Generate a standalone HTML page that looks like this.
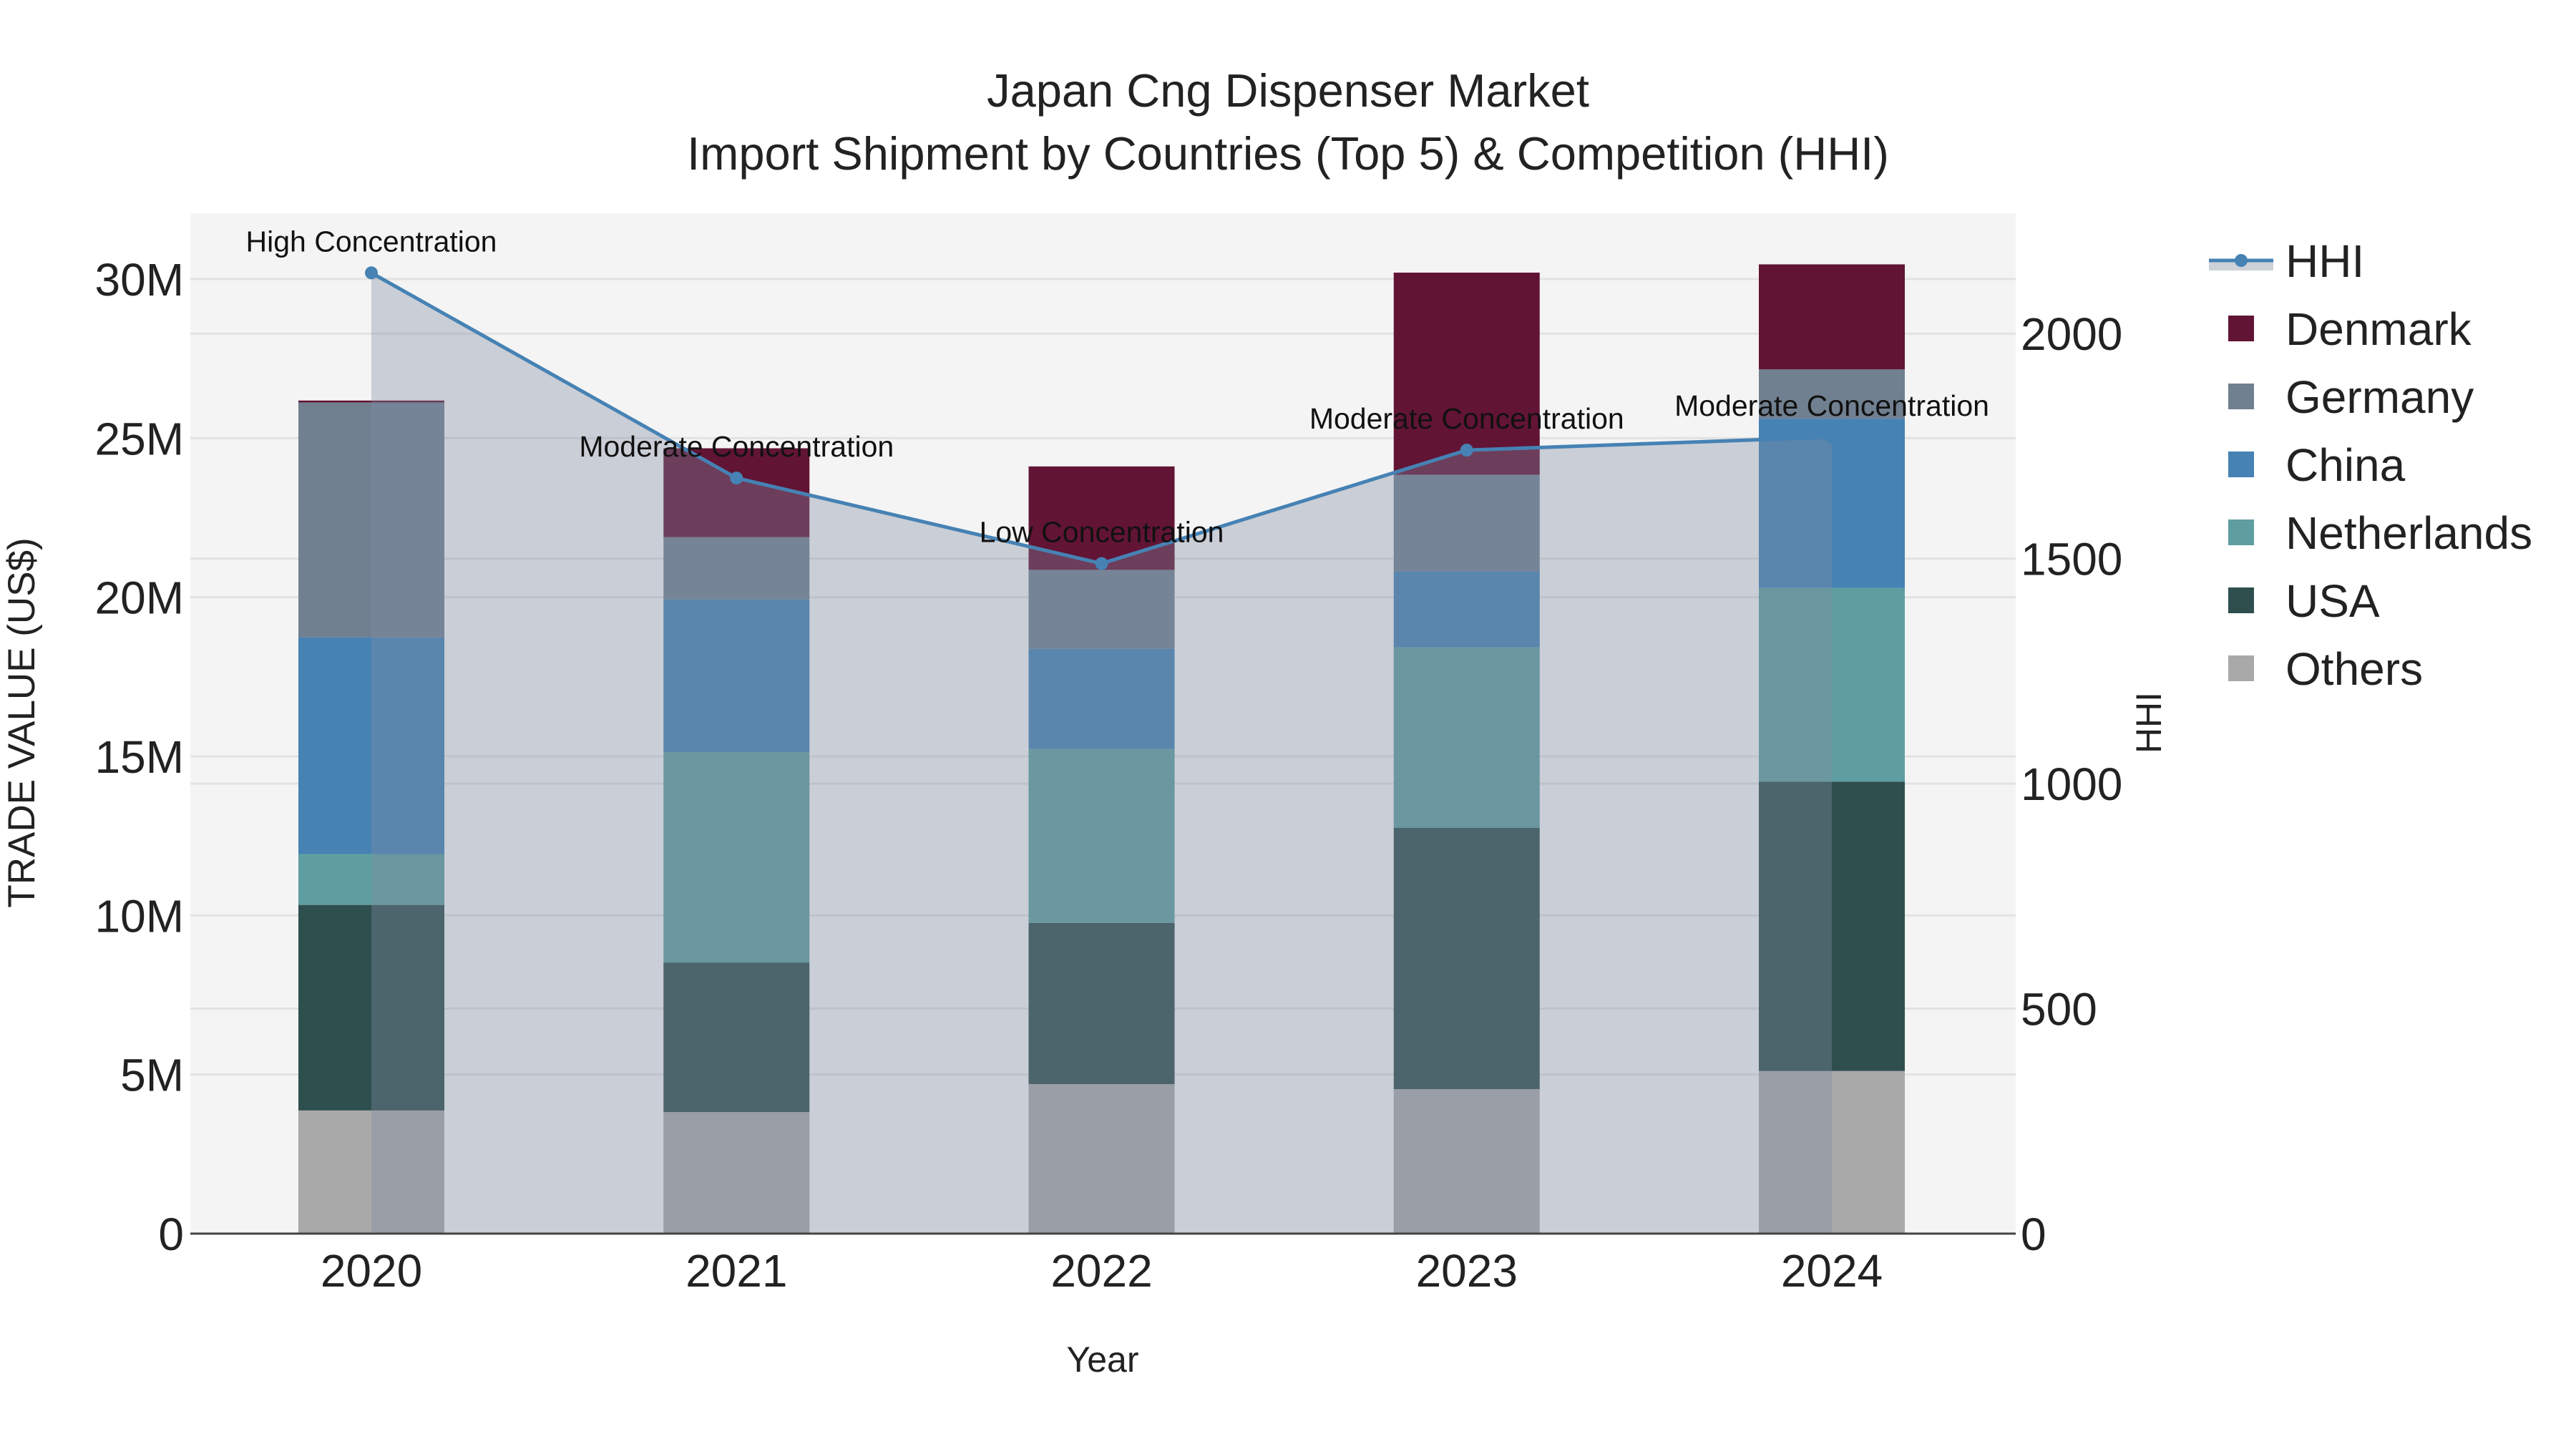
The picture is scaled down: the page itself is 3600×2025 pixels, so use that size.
<!DOCTYPE html>
<html><head><meta charset="utf-8">
<style>
html,body{margin:0;padding:0;background:#fff;}
svg{display:block;font-family:"Liberation Sans",Arial,sans-serif;}
</style></head>
<body>
<svg id="chart" width="3600" height="2025" viewBox="0 0 3600 2025" xmlns="http://www.w3.org/2000/svg">
  <rect x="0" y="0" width="3600" height="2025" fill="#ffffff"/>
  <text x="1800" y="149" text-anchor="middle" font-size="65" fill="#222">Japan Cng Dispenser Market</text>
  <text x="1800" y="237" text-anchor="middle" font-size="65" fill="#222">Import Shipment by Countries (Top 5) &amp; Competition (HHI)</text>
  <rect x="266" y="298" width="2551" height="1426" fill="#f4f4f4"/>
  <g id="grid"></g>
  <g id="bars"></g>
  <g id="hhi"></g>
  <g id="axes"></g>
  <text x="0" y="0" transform="translate(48,1010) rotate(-90)" text-anchor="middle" font-size="53" fill="#222">TRADE VALUE (US$)</text>
  <text x="0" y="0" transform="translate(3020,1010) rotate(-90)" text-anchor="middle" font-size="50" fill="#222">HHI</text>
  <text x="1541" y="1917" text-anchor="middle" font-size="50" fill="#222">Year</text>
  <g id="legend"></g>
</svg>
<script>
const years = ["2020","2021","2022","2023","2024"];
const seriesNames = ["Others","USA","Netherlands","China","Germany","Denmark"];
const others = [3.87, 3.82, 4.70, 4.54, 5.11];
const usa = [6.46, 4.70, 5.06, 8.21, 9.09];
const netherlands = [1.60, 6.61, 5.47, 5.68, 6.09];
const china = [6.81, 4.80, 3.15, 2.38, 5.32];
const germany = [7.38, 1.96, 2.48, 3.04, 1.55];
const denmark = [0.06, 2.79, 3.25, 6.35, 3.30];
const hhi = [2135, 1679, 1489, 1741, 1770];
const hhiLabels = ["High Concentration","Moderate Concentration","Low Concentration","Moderate Concentration","Moderate Concentration"];
const yTicks = [0, 5, 10, 15, 20, 25, 30];
const yTickLabels = ["0","5M","10M","15M","20M","25M","30M"];
const y2Ticks = [0, 500, 1000, 1500, 2000];
const colors = {Others:"#a9a9a9",USA:"#2f4f4f",Netherlands:"#5f9ea0",China:"#4682b4",Germany:"#708090",Denmark:"#621435"};
const seriesData = [others, usa, netherlands, china, germany, denmark];

const NS = "http://www.w3.org/2000/svg";
const L = 266, R = 2817, T = 298, B = 1724;
const x0 = 519, step = 510.25;
function xPos(i){ return x0 + i*step; }
function yPos(v){ return B - v*44.47; }
function y2Pos(v){ return B - v*0.6289; }
function mk(tag, attrs, parent){ const e=document.createElementNS(NS,tag); for(const k in attrs) e.setAttribute(k,attrs[k]); parent.appendChild(e); return e; }

const grid = document.getElementById('grid');
yTicks.forEach(t=>{
  const l = mk('line',{x1:L,x2:R,y1:yPos(t),y2:yPos(t),stroke:'#e2e2e2','stroke-width':3},grid);
  
  
});
y2Ticks.forEach(t=>{
  const l = mk('line',{x1:L,x2:R,y1:y2Pos(t),y2:y2Pos(t),stroke:'#e2e2e2','stroke-width':3},grid);
  
  
});

const bars = document.getElementById('bars');
const bw = 204;
years.forEach((yr,i)=>{
  let cum = 0;
  seriesData.forEach((arr,s)=>{
    const v = arr[i];
    const r = mk('rect',{x:xPos(i)-bw/2,y:yPos(cum+v),width:bw,height:yPos(cum)-yPos(cum+v),fill:colors[seriesNames[s]]},bars);
    
    
    cum += v;
  });
});

const hg = document.getElementById('hhi');
let d = 'M'+xPos(0)+','+B;
hhi.forEach((v,i)=>{ d += ' L'+xPos(i)+','+y2Pos(v); });
d += ' L'+xPos(hhi.length-1)+','+B+' Z';
const area = mk('path',{d:d,fill:'rgba(128,138,160,0.36)'},hg);


const pts = hhi.map((v,i)=>xPos(i)+','+y2Pos(v)).join(' ');
const line = mk('polyline',{points:pts,fill:'none',stroke:'#4682b4','stroke-width':5},hg);


hhi.forEach((v,i)=>{
  const c = mk('circle',{cx:xPos(i),cy:y2Pos(v),r:9,fill:'#4682b4'},hg);
  
  
  const t = mk('text',{x:xPos(i),y:y2Pos(v)-30,'text-anchor':'middle','font-size':41,fill:'#111'},hg);
  t.textContent = hhiLabels[i];
  
  
});

const ax = document.getElementById('axes');
const base = mk('line',{x1:L,x2:R,y1:B,y2:B,stroke:'#444','stroke-width':3},ax);


yTicks.forEach((t,i)=>{
  const e = mk('text',{x:257,y:yPos(t)+23,'text-anchor':'end','font-size':64,fill:'#222'},ax);
  e.textContent = yTickLabels[i];
  
  
});
y2Ticks.forEach(t=>{
  const e = mk('text',{x:2824,y:y2Pos(t)+23,'text-anchor':'start','font-size':64,fill:'#222'},ax);
  e.textContent = String(t);
  
  
});
years.forEach((yr,i)=>{
  const e = mk('text',{x:xPos(i),y:1798,'text-anchor':'middle','font-size':64,fill:'#222'},ax);
  e.textContent = yr;
  
  
});

const lg = document.getElementById('legend');
const lh = mk('rect',{x:3087,y:364,width:90,height:14,fill:'#cdd2d9'},lg);


const ll = mk('line',{x1:3087,x2:3177,y1:364,y2:364,stroke:'#4682b4','stroke-width':5},lg);


const lc = mk('circle',{cx:3132,cy:364,r:9,fill:'#4682b4'},lg);


const lt = mk('text',{x:3194,y:387,'font-size':64,fill:'#222'},lg);
lt.textContent = 'HHI';


const order = ["Denmark","Germany","China","Netherlands","USA","Others"];
order.forEach((n,k)=>{
  const cy = 459 + k*95;
  const r = mk('rect',{x:3114,y:cy-18,width:36,height:36,fill:colors[n]},lg);
  
  
  const t = mk('text',{x:3194,y:cy+23,'font-size':64,fill:'#222'},lg);
  t.textContent = n;
  
  
});
</script>
</body></html>
